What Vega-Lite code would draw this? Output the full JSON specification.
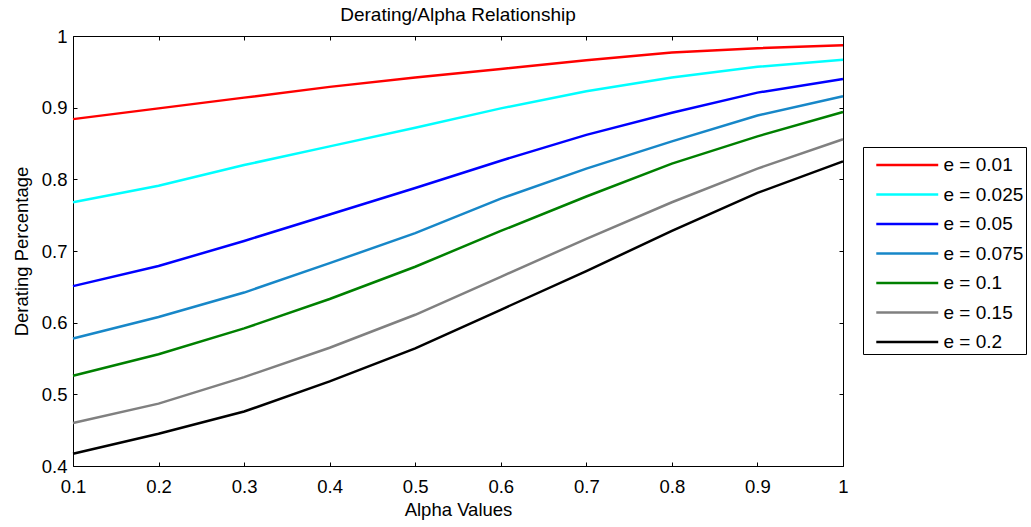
{
  "$schema": "https://vega.github.io/schema/vega-lite/v6.json",
  "width": 770,
  "height": 430,
  "autosize": {"type": "none"},
  "padding": {"left": 73, "top": 36, "right": 188, "bottom": 61},
  "background": "white",
  "config": {
    "font": "Liberation Sans",
    "view": {"stroke": "black", "strokeWidth": 1},
    "axis": {
      "grid": false,
      "domain": false,
      "tickColor": "black",
      "tickSize": -4,
      "tickWidth": 1,
      "labelColor": "black",
      "titleColor": "black",
      "labelFont": "Liberation Sans",
      "titleFont": "Liberation Sans",
      "labelFontSize": 18.5,
      "titleFontSize": 18.5,
      "titleFontWeight": "normal",
      "labelFlush": false,
      "labelOverlap": false
    },
    "legend": {
      "orient": "none",
      "legendX": 790,
      "legendY": 111,
      "strokeColor": "black",
      "fillColor": "white",
      "padding": 2,
      "symbolType": "M-2.1,0H2.1",
      "symbolSize": 870,
      "symbolStrokeWidth": 2.5,
      "symbolOffset": 26.25,
      "labelOffset": 20.25,
      "labelFont": "Liberation Sans",
      "labelFontSize": 19,
      "labelColor": "black",
      "labelLimit": 300,
      "rowPadding": 3.5
    }
  },
  "title": {
    "text": "Derating/Alpha Relationship",
    "fontSize": 19,
    "fontWeight": "normal",
    "color": "black",
    "font": "Liberation Sans",
    "anchor": "middle",
    "baseline": "top",
    "offset": 2
  },
  "data": {
    "values": [
      {"alpha": 0.1, "e": "e = 0.01", "value": 0.884},
      {"alpha": 0.2, "e": "e = 0.01", "value": 0.899},
      {"alpha": 0.3, "e": "e = 0.01", "value": 0.914},
      {"alpha": 0.4, "e": "e = 0.01", "value": 0.929},
      {"alpha": 0.5, "e": "e = 0.01", "value": 0.942},
      {"alpha": 0.6, "e": "e = 0.01", "value": 0.954},
      {"alpha": 0.7, "e": "e = 0.01", "value": 0.966},
      {"alpha": 0.8, "e": "e = 0.01", "value": 0.977},
      {"alpha": 0.9, "e": "e = 0.01", "value": 0.983},
      {"alpha": 1.0, "e": "e = 0.01", "value": 0.987},
      {"alpha": 0.1, "e": "e = 0.025", "value": 0.768},
      {"alpha": 0.2, "e": "e = 0.025", "value": 0.791},
      {"alpha": 0.3, "e": "e = 0.025", "value": 0.820},
      {"alpha": 0.4, "e": "e = 0.025", "value": 0.846},
      {"alpha": 0.5, "e": "e = 0.025", "value": 0.872},
      {"alpha": 0.6, "e": "e = 0.025", "value": 0.899},
      {"alpha": 0.7, "e": "e = 0.025", "value": 0.923},
      {"alpha": 0.8, "e": "e = 0.025", "value": 0.942},
      {"alpha": 0.9, "e": "e = 0.025", "value": 0.957},
      {"alpha": 1.0, "e": "e = 0.025", "value": 0.967},
      {"alpha": 0.1, "e": "e = 0.05", "value": 0.651},
      {"alpha": 0.2, "e": "e = 0.05", "value": 0.679},
      {"alpha": 0.3, "e": "e = 0.05", "value": 0.714},
      {"alpha": 0.4, "e": "e = 0.05", "value": 0.751},
      {"alpha": 0.5, "e": "e = 0.05", "value": 0.788},
      {"alpha": 0.6, "e": "e = 0.05", "value": 0.826},
      {"alpha": 0.7, "e": "e = 0.05", "value": 0.862},
      {"alpha": 0.8, "e": "e = 0.05", "value": 0.893},
      {"alpha": 0.9, "e": "e = 0.05", "value": 0.921},
      {"alpha": 1.0, "e": "e = 0.05", "value": 0.940},
      {"alpha": 0.1, "e": "e = 0.075", "value": 0.578},
      {"alpha": 0.2, "e": "e = 0.075", "value": 0.608},
      {"alpha": 0.3, "e": "e = 0.075", "value": 0.642},
      {"alpha": 0.4, "e": "e = 0.075", "value": 0.683},
      {"alpha": 0.5, "e": "e = 0.075", "value": 0.725},
      {"alpha": 0.6, "e": "e = 0.075", "value": 0.773},
      {"alpha": 0.7, "e": "e = 0.075", "value": 0.815},
      {"alpha": 0.8, "e": "e = 0.075", "value": 0.853},
      {"alpha": 0.9, "e": "e = 0.075", "value": 0.889},
      {"alpha": 1.0, "e": "e = 0.075", "value": 0.916},
      {"alpha": 0.1, "e": "e = 0.1", "value": 0.526},
      {"alpha": 0.2, "e": "e = 0.1", "value": 0.556},
      {"alpha": 0.3, "e": "e = 0.1", "value": 0.592},
      {"alpha": 0.4, "e": "e = 0.1", "value": 0.633},
      {"alpha": 0.5, "e": "e = 0.1", "value": 0.678},
      {"alpha": 0.6, "e": "e = 0.1", "value": 0.728},
      {"alpha": 0.7, "e": "e = 0.1", "value": 0.776},
      {"alpha": 0.8, "e": "e = 0.1", "value": 0.822},
      {"alpha": 0.9, "e": "e = 0.1", "value": 0.860},
      {"alpha": 1.0, "e": "e = 0.1", "value": 0.894},
      {"alpha": 0.1, "e": "e = 0.15", "value": 0.460},
      {"alpha": 0.2, "e": "e = 0.15", "value": 0.487},
      {"alpha": 0.3, "e": "e = 0.15", "value": 0.524},
      {"alpha": 0.4, "e": "e = 0.15", "value": 0.565},
      {"alpha": 0.5, "e": "e = 0.15", "value": 0.611},
      {"alpha": 0.6, "e": "e = 0.15", "value": 0.664},
      {"alpha": 0.7, "e": "e = 0.15", "value": 0.717},
      {"alpha": 0.8, "e": "e = 0.15", "value": 0.768},
      {"alpha": 0.9, "e": "e = 0.15", "value": 0.815},
      {"alpha": 1.0, "e": "e = 0.15", "value": 0.856},
      {"alpha": 0.1, "e": "e = 0.2", "value": 0.417},
      {"alpha": 0.2, "e": "e = 0.2", "value": 0.445},
      {"alpha": 0.3, "e": "e = 0.2", "value": 0.476},
      {"alpha": 0.4, "e": "e = 0.2", "value": 0.518},
      {"alpha": 0.5, "e": "e = 0.2", "value": 0.564},
      {"alpha": 0.6, "e": "e = 0.2", "value": 0.618},
      {"alpha": 0.7, "e": "e = 0.2", "value": 0.672},
      {"alpha": 0.8, "e": "e = 0.2", "value": 0.728},
      {"alpha": 0.9, "e": "e = 0.2", "value": 0.781},
      {"alpha": 1.0, "e": "e = 0.2", "value": 0.825}
    ]
  },
  "layer": [
    {
      "mark": {"type": "line", "strokeWidth": 2.5},
      "encoding": {
        "x": {
          "field": "alpha",
          "type": "quantitative",
          "scale": {"domain": [0.1, 1], "nice": false, "zero": false},
          "axis": {
            "orient": "bottom",
            "values": [0.1, 0.2, 0.3, 0.4, 0.5, 0.6, 0.7, 0.8, 0.9, 1],
            "format": "~g",
            "title": "Alpha Values",
            "labelBaseline": "alphabetic",
            "labelPadding": 30,
            "titleY": 49,
            "titleBaseline": "alphabetic"
          }
        },
        "y": {
          "field": "value",
          "type": "quantitative",
          "scale": {"domain": [0.4, 1], "nice": false, "zero": false},
          "axis": {
            "orient": "left",
            "values": [0.4, 0.5, 0.6, 0.7, 0.8, 0.9, 1],
            "format": "~g",
            "title": "Derating Percentage",
            "labelPadding": 10,
            "titleX": -46,
            "titleBaseline": "alphabetic"
          }
        },
        "color": {
          "field": "e",
          "type": "nominal",
          "scale": {
            "domain": ["e = 0.01", "e = 0.025", "e = 0.05", "e = 0.075", "e = 0.1", "e = 0.15", "e = 0.2"],
            "range": ["#ff0000", "#00ffff", "#0000ff", "#1787c8", "#008000", "#808080", "#000000"]
          },
          "legend": {"title": null}
        }
      }
    },
    {
      "mark": {"type": "point", "opacity": 0},
      "encoding": {
        "x": {
          "field": "alpha",
          "type": "quantitative",
          "scale": {"domain": [0.1, 1], "nice": false, "zero": false},
          "axis": {
            "orient": "top",
            "values": [0.1, 0.2, 0.3, 0.4, 0.5, 0.6, 0.7, 0.8, 0.9, 1],
            "labels": false,
            "title": null
          }
        },
        "y": {
          "field": "value",
          "type": "quantitative",
          "scale": {"domain": [0.4, 1], "nice": false, "zero": false},
          "axis": {
            "orient": "right",
            "values": [0.4, 0.5, 0.6, 0.7, 0.8, 0.9, 1],
            "labels": false,
            "title": null
          }
        }
      }
    }
  ],
  "resolve": {"axis": {"x": "independent", "y": "independent"}}
}
